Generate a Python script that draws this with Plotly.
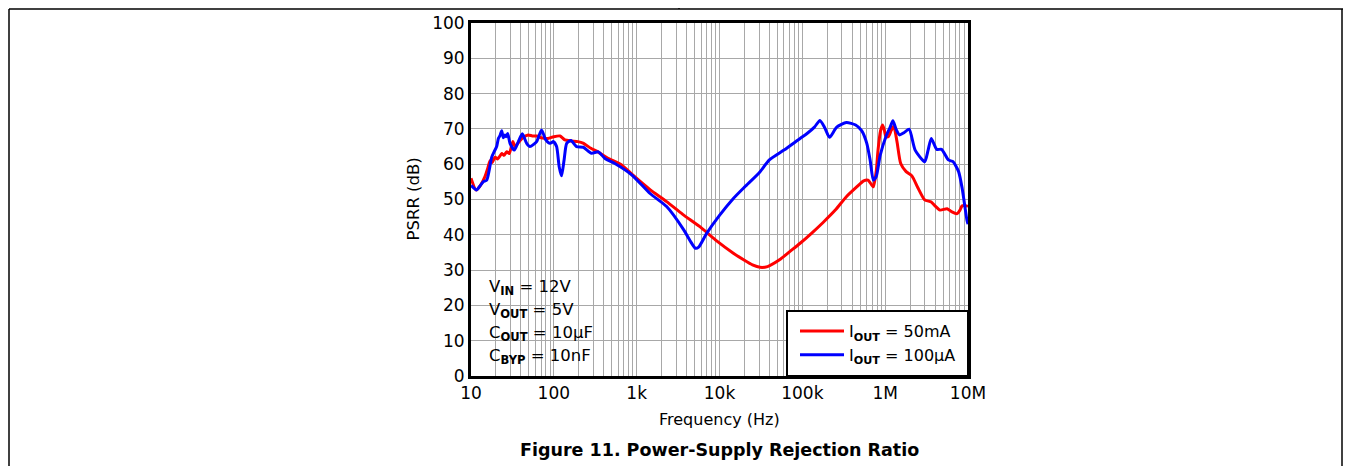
import plotly.graph_objects as go

# ---------------- data ----------------
freq_50mA = [10, 11.5, 13, 14.7, 16, 17, 18, 19.5, 21, 23.5, 25, 27, 29, 32, 34, 37, 42, 49, 55, 62, 70, 85,
             100, 119, 136, 160, 195, 225, 280, 340, 450, 660, 910, 1450, 2300, 3600, 5800, 9000, 14700,
             20000, 25000, 30900, 38000, 53000, 71000, 94000, 130000, 178000, 250000, 340000, 450000,
             550000, 620000, 680000, 720000, 780000, 820000, 880000, 930000, 980000, 1020000, 1090000,
             1180000, 1270000, 1340000, 1400000, 1540000, 1790000, 2100000, 2500000, 3000000, 3600000,
             4000000, 4600000, 5600000, 6400000, 7400000, 8000000, 8500000, 9600000, 10000000]
psrr_50mA = [56, 52.7, 54, 56.4, 59, 61, 60.5, 62, 61.5, 63, 62.5, 63.5, 63, 66.4, 65, 66, 67.5, 68.3, 68, 68,
             67.5, 67.3, 67.8, 68, 66.9, 66.6, 66.4, 66, 64.5, 63.5, 61.7, 59.8, 56.8, 52.8, 49.4, 45.8,
             42.3, 38.5, 34.8, 32.8, 31.5, 30.8, 31, 32.9, 35.3, 37.6, 40.5, 43.5, 47, 50.8, 53.5, 55.3,
             55.5, 54.3, 53.6, 58, 64, 69.5, 71.1, 69.5, 67.8, 67.8, 69.5, 70.8, 68.5, 65.9, 60.2, 57.9,
             56.7, 53.2, 49.9, 49.3, 48.2, 47, 47.4, 46.5, 46, 47, 48.2, 48.2, 48]

freq_100uA = [10, 11.7, 13, 14, 15.5, 16.5, 17.8, 19, 20.4, 21.4, 22.3, 23.5, 24.5, 25.7, 26.5, 27.7, 29.6,
              33.3, 37.3, 41.6, 47, 51.5, 62, 71, 80, 90, 99, 108, 116, 124, 133, 143, 161, 188, 227, 285,
              345, 415, 545, 870, 1450, 2300, 3700, 4500, 5100, 5600, 7000, 10000, 14700, 20000, 30000,
              40000, 60000, 94000, 114000, 140000, 163000, 185000, 213000, 260000, 340000, 440000, 520000,
              600000, 660000, 720000, 780000, 870000, 1020000, 1150000, 1240000, 1350000, 1490000, 1700000,
              1950000, 2300000, 3000000, 3300000, 3600000, 4200000, 4800000, 5800000, 6600000, 7700000,
              8500000, 9700000, 10000000]
psrr_100uA = [54, 52.7, 54, 55, 55.5, 58, 62, 63.5, 65, 67.3, 68, 69.5, 67.5, 68.3, 67.8, 68.7, 65.9, 64,
              66.4, 68.6, 65.9, 65, 66.4, 69.7, 66.9, 65.9, 66.4, 65, 59.3, 56.7, 61.2, 65.9, 66.7, 65, 64.8,
              63.1, 63.5, 61.6, 60.2, 57, 51.7, 48, 41.4, 38, 36.2, 36.5, 40.4, 45.5, 50.3, 53.5, 57.5, 61.2,
              64, 67.3, 68.7, 70.5, 72.4, 70.5, 67.6, 70.5, 71.8, 71.1, 69.5, 65.9, 61, 55.5, 56.5, 62.5,
              67.8, 70.5, 72.3, 70, 68.3, 69, 69.9, 64, 60.7, 64, 67.3, 64.2, 64.2, 61.2, 60.7, 57.9, 53.2,
              44.2, 43]

x_tick_vals = [10, 100, 1000, 10000, 100000, 1000000, 10000000]
x_tick_text = ["10", "100", "1k", "10k", "100k", "1M", "10M"]
y_tick_vals = [0, 10, 20, 30, 40, 50, 60, 70, 80, 90, 100]

series_names = ["I<sub><b>OUT</b></sub> = 50mA", "I<sub><b>OUT</b></sub> = 100µA"]
conditions = ["V<sub><b>IN</b></sub> = 12V", "V<sub><b>OUT</b></sub> = 5V",
              "C<sub><b>OUT</b></sub> = 10µF", "C<sub><b>BYP</b></sub> = 10nF"]

# ---------------- layout geometry (page pixels; page body has an 8px margin) ----------------
OFF = 8
W, H = 1351 - 2 * OFF, 466 - OFF
L, R, T, B = 471, 968, 23, 376          # plot area in page pixels
pw, ph = R - L, B - T


def px(xp):
    return (xp - L) / pw


def py(yp):
    return (B - yp) / ph


FONT = "DejaVu Sans, Liberation Sans, Arial, sans-serif"
GRID = "#a8a8a8"

minor_vals = [m * d for d in [10, 100, 1000, 10000, 100000, 1000000] for m in range(2, 10)]

fig = go.Figure()
fig.add_trace(go.Scatter(x=freq_50mA, y=psrr_50mA, mode="lines", name=series_names[0],
                         line=dict(color="#ff0000", width=3, shape="spline", smoothing=0.6)))
fig.add_trace(go.Scatter(x=freq_100uA, y=psrr_100uA, mode="lines", name=series_names[1],
                         line=dict(color="#0000ff", width=3, shape="spline", smoothing=0.6)))

fig.update_layout(
    width=W, height=H, autosize=False,
    margin=dict(l=L - OFF, r=W - (R - OFF), t=T - OFF, b=H - (B - OFF), pad=0, autoexpand=False),
    paper_bgcolor="white", plot_bgcolor="white",
    font=dict(family=FONT, size=16, color="black"),
    showlegend=True,
    legend=dict(x=px(795), y=py(314), xanchor="left", yanchor="top",
                bgcolor="rgba(0,0,0,0)", borderwidth=0,
                font=dict(family=FONT, size=16, color="black"),
                itemwidth=44, tracegroupgap=0),
    xaxis=dict(type="log", range=[1, 7], tickvals=x_tick_vals, ticktext=x_tick_text,
               showgrid=True, gridcolor=GRID, gridwidth=1, ticks="", automargin=False,
               showline=True, linecolor="black", linewidth=3, mirror=True, zeroline=False,
               tickfont=dict(size=17),
               minor=dict(tickvals=minor_vals, showgrid=True, gridcolor=GRID, gridwidth=1, ticks="")),
    yaxis=dict(range=[0, 100], tickvals=y_tick_vals, automargin=False,
               showgrid=True, gridcolor=GRID, gridwidth=1, ticks="",
               showline=True, linecolor="black", linewidth=3, mirror=True, zeroline=False,
               tickfont=dict(size=17)),
)

shapes = []
# conditions box (hides grid)
shapes.append(dict(type="rect", xref="paper", yref="paper", x0=0, x1=px(600), y0=0, y1=py(266),
                   fillcolor="white", line=dict(width=0), layer="between"))
# legend box
shapes.append(dict(type="rect", xref="paper", yref="paper", x0=px(787), x1=1, y0=0, y1=py(311),
                   fillcolor="white", line=dict(color="black", width=2), layer="above"))
# page frame lines
FT, FL, FR = 9, 9, 1342
shapes.append(dict(type="line", xref="paper", yref="paper", x0=px(FL), x1=px(1343), y0=py(FT), y1=py(FT),
                   line=dict(color="black", width=1.5)))
shapes.append(dict(type="line", xref="paper", yref="paper", x0=px(FL), x1=px(FL), y0=py(FT), y1=py(466),
                   line=dict(color="black", width=1.5)))
shapes.append(dict(type="line", xref="paper", yref="paper", x0=px(FR), x1=px(FR), y0=py(FT), y1=py(466),
                   line=dict(color="black", width=1.5)))
shapes.append(dict(type="line", xref="paper", yref="paper", x0=px(679), x1=px(679), y0=py(OFF), y1=py(FT),
                   line=dict(color="black", width=1.5)))
fig.update_layout(shapes=shapes)

annotations = []
for i, txt in enumerate(conditions):
    annotations.append(dict(text=txt, xref="paper", yref="paper", x=px(487), y=py(287 + i * 23),
                            xanchor="left", yanchor="middle", showarrow=False,
                            font=dict(family=FONT, size=16.5, color="black")))
annotations.append(dict(text="PSRR (dB)", xref="paper", yref="paper", x=px(413), y=py(199.5),
                        xanchor="center", yanchor="middle", textangle=-90, showarrow=False,
                        font=dict(family=FONT, size=16.5, color="black")))
annotations.append(dict(text="Frequency (Hz)", xref="paper", yref="paper", x=px(719), y=py(419),
                        xanchor="center", yanchor="middle", showarrow=False,
                        font=dict(family=FONT, size=16, color="black")))
annotations.append(dict(text="<b>Figure 11. Power-Supply Rejection Ratio</b>", xref="paper", yref="paper",
                        x=px(719), y=py(450), xanchor="center", yanchor="middle", showarrow=False,
                        font=dict(family=FONT, size=17.5, color="black")))
fig.update_layout(annotations=annotations)

fig.write_html("out.html")
